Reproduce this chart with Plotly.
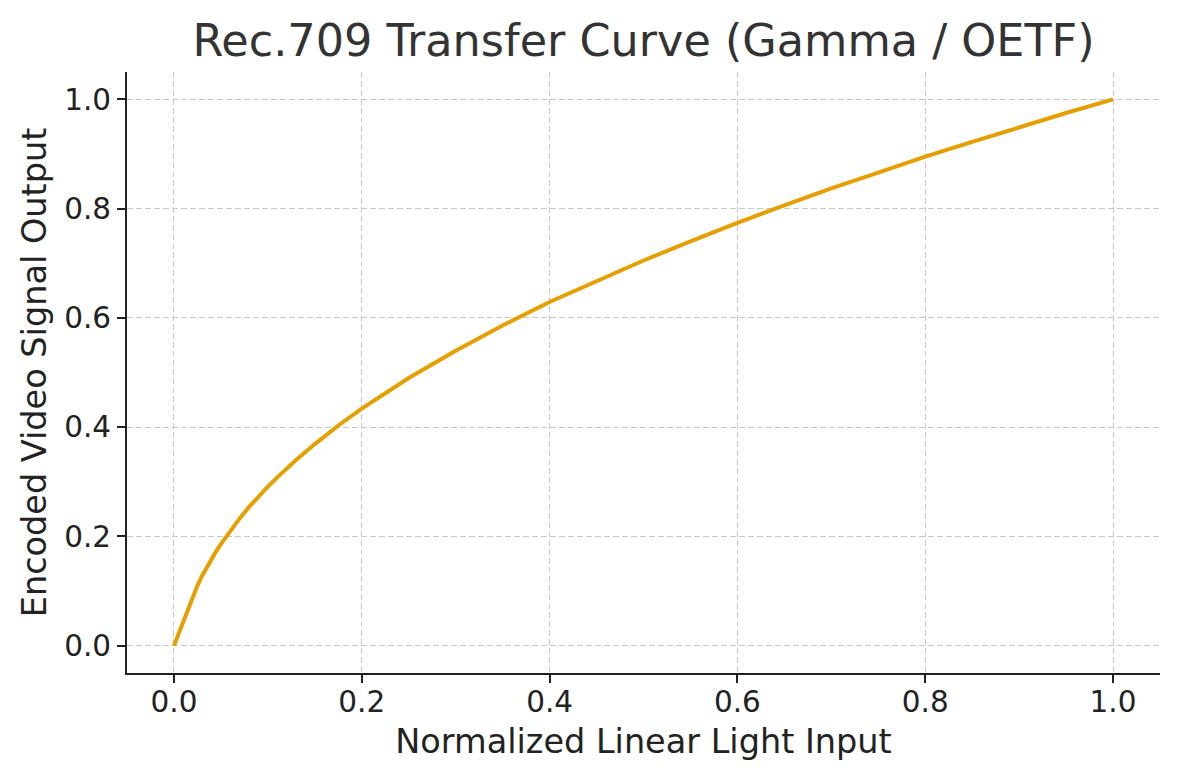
import plotly.graph_objects as go

# values
light_in = [0.0, 0.005, 0.01, 0.015, 0.018, 0.02, 0.025, 0.03, 0.035, 0.04, 0.045, 0.05,
            0.06, 0.07, 0.08, 0.09, 0.1, 0.11, 0.12, 0.13, 0.15, 0.175, 0.2, 0.25,
            0.3, 0.35, 0.4, 0.45, 0.5, 0.55, 0.6, 0.65, 0.7, 0.75, 0.8, 0.85,
            0.9, 0.95, 1.0]
signal_out = [0.0, 0.0225, 0.045, 0.0675, 0.081, 0.090, 0.110, 0.128, 0.144, 0.159, 0.173, 0.186,
              0.211, 0.233, 0.254, 0.273, 0.291, 0.308, 0.324, 0.340, 0.369, 0.403, 0.434, 0.490,
              0.540, 0.586, 0.629, 0.668, 0.705, 0.740, 0.774, 0.806, 0.837, 0.866, 0.895, 0.922,
              0.949, 0.975, 1.0]

tick_vals = [0.0, 0.2, 0.4, 0.6, 0.8, 1.0]
tick_text = ['0.0', '0.2', '0.4', '0.6', '0.8', '1.0']

fig = go.Figure()
fig.add_trace(go.Scatter(x=light_in, y=signal_out, mode='lines',
                         line=dict(color='#E69F00', width=4)))

axis_style = dict(range=[-0.05, 1.05], tickvals=tick_vals, ticktext=tick_text,
                  showline=True, linecolor='#222', linewidth=2,
                  ticks='outside', ticklen=8, tickwidth=2, tickcolor='#222',
                  showgrid=True, gridcolor='#c8c8c8', griddash='6px,3px', gridwidth=1.2,
                  zeroline=False, tickfont=dict(size=29.5, color='#222'))

# the page has an 8px body margin, so the figure is shrunk by that much
fig.update_layout(
    width=1164, height=764,
    margin=dict(l=119, r=12, t=64, b=99),
    paper_bgcolor='white', plot_bgcolor='white',
    font=dict(family='DejaVu Sans', color='#222'),
    showlegend=False,
    title=dict(text='Rec.709 Transfer Curve (Gamma / OETF)', x=0.5, xref='paper',
               xanchor='center', y=0.957, yanchor='middle', font=dict(size=44.5, color='#333')),
)
fig.update_xaxes(axis_style, ticklabelstandoff=-6,
                 title=dict(text='Normalized Linear Light Input', font=dict(size=33.5), standoff=11))
fig.update_yaxes(axis_style,
                 title=dict(text='Encoded Video Signal Output', font=dict(size=33.5), standoff=7))

fig.write_html("out.html")
